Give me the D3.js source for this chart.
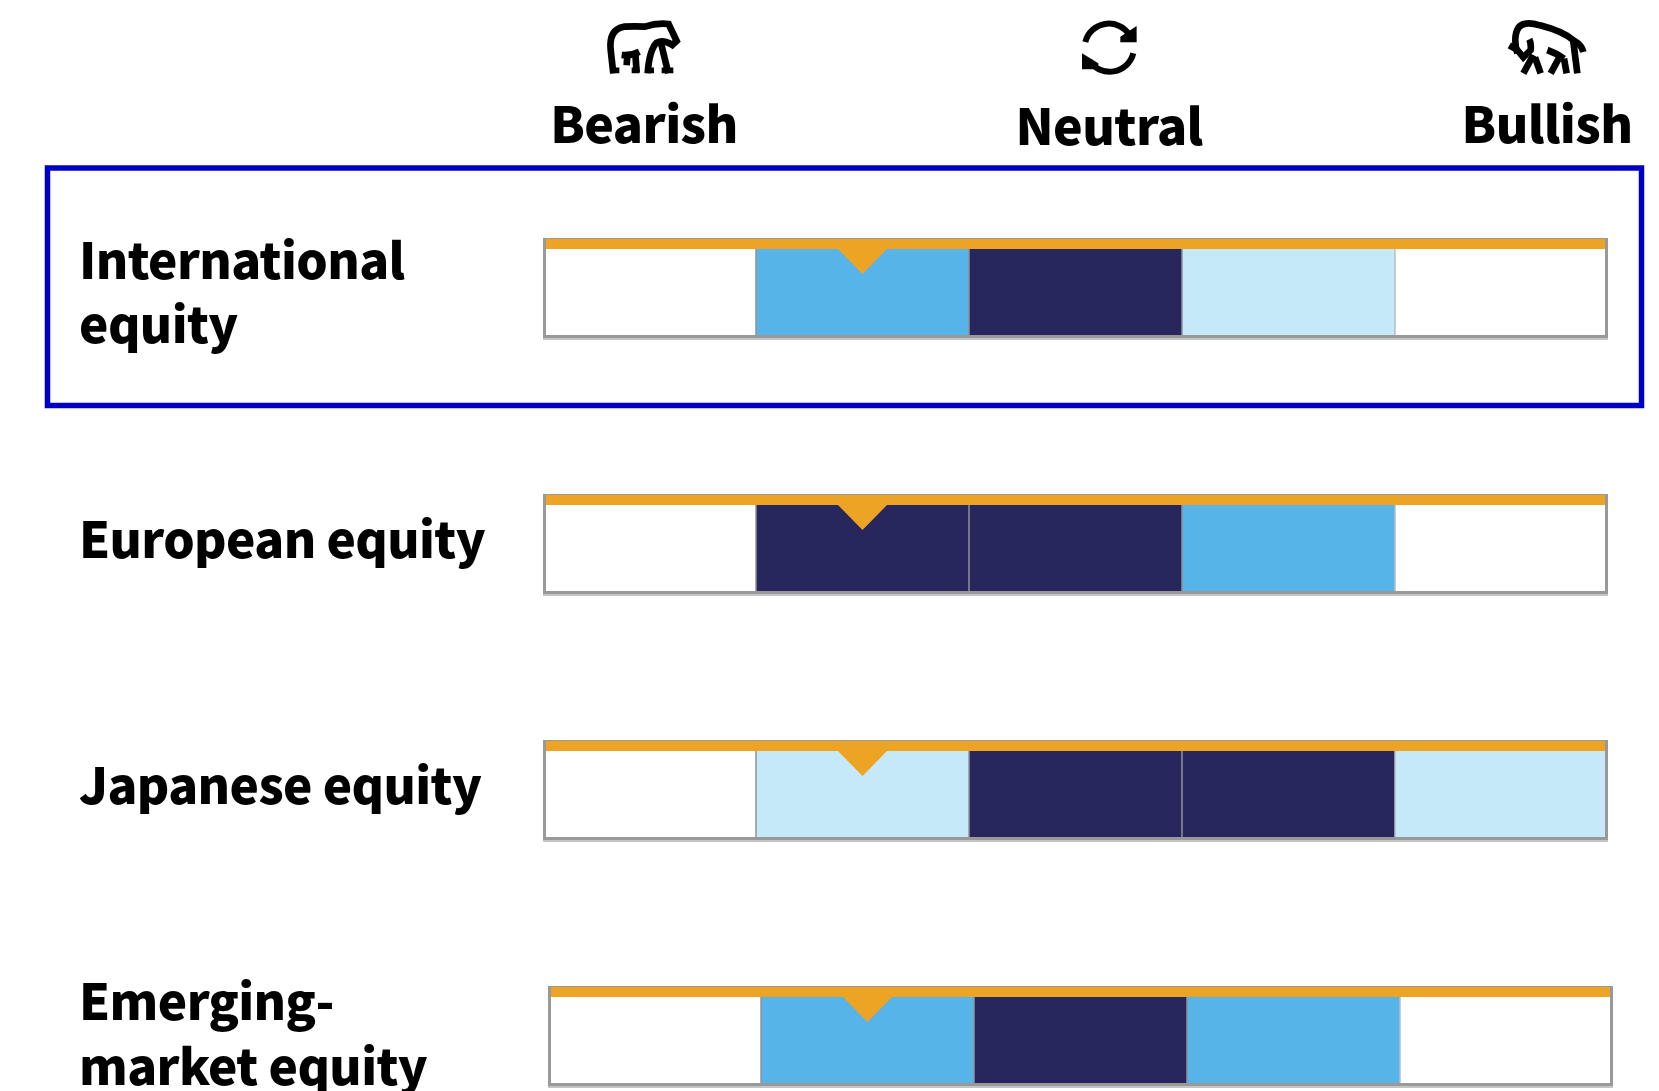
<!DOCTYPE html>
<html>
<head>
<meta charset="utf-8">
<script src="https://cdnjs.cloudflare.com/ajax/libs/d3/7.8.5/d3.min.js"></script>
<style>
	html, body { margin: 0; padding: 0; background: #fff; overflow: hidden; }
	svg { display: block; }
	text { font-family: "Noto Sans CJK JP", "Noto Sans", sans-serif; font-weight: 900; fill: #000; letter-spacing: -0.6px; }
</style>
</head>
<body>
<svg id="chart" width="1659" height="1091"></svg>
<script>
// data
var rows = ["International equity", "European equity", "Japanese equity", "Emerging-market equity"];
var positions = ["Very bearish", "Bearish", "Neutral", "Bullish", "Very bullish"];
var headers = ["Bearish", "Neutral", "Bullish"];
// shade of each cell: 0 none, 1 light, 2 mid, 3 dark
var internationalShades = [0, 2, 3, 1, 0];
var europeanShades = [0, 3, 3, 2, 0];
var japaneseShades = [0, 1, 3, 3, 1];
var emergingShades = [0, 2, 3, 2, 0];
var shades = [internationalShades, europeanShades, japaneseShades, emergingShades];
// position of the orange marker in each row
var markers = ["Bearish", "Bearish", "Bearish", "Bearish"];

// layout
var rowLabels = [["International", "equity"], ["European equity"], ["Japanese equity"], ["Emerging-", "market equity"]];
var labelBaselines = [[279, 343], [558], [804], [1020, 1085]];
var rowTops = [238, 494, 740, 986];
var rowShift = [0, 0, 0, 5];
var headerX = [644, 1109, 1547];
var headerY = [143, 145, 143];
var barH = 100;

var color = d3.scaleOrdinal().domain([0, 1, 2, 3]).range(["#ffffff", "#c6e9f9", "#57b4e8", "#27275e"]);
var x = d3.scaleBand().domain(positions).range([543, 1608]);
var y = d3.scaleOrdinal().domain(rows).range(rowTops);
var svg = d3.select("#chart");

// blue box round the first row
svg.append("rect")
	.attr("x", 47.5).attr("y", 168)
	.attr("width", 1594).attr("height", 237.5)
	.attr("fill", "none").attr("stroke", "#0000c4").attr("stroke-width", 5.5);

// column headers
svg.selectAll(".header")
	.data(headers)
	.enter()
	.append("text")
		.attr("class", "header")
		.attr("x", function(d, i) { return headerX[i]; })
		.attr("y", function(d, i) { return headerY[i]; })
		.attr("text-anchor", "middle")
		.style("font-size", "50px")
		.text(function(d) { return d; });

// row labels
rowLabels.forEach(function(lines, r) {
	lines.forEach(function(line, l) {
		svg.append("text")
			.attr("x", 79)
			.attr("y", labelBaselines[r][l])
			.style("font-size", "49.5px")
			.text(line);
	});
});

// one bar per row
rows.forEach(function(row, r) {
	var top = y(row);
	var g = svg.append("g").attr("transform", "translate(" + rowShift[r] + ",0)");

	// soft shadow under the frame
	g.append("rect")
		.attr("x", x.range()[0]).attr("y", top + 98)
		.attr("width", x.range()[1] - x.range()[0]).attr("height", 4)
		.attr("fill", "#c4c4c4");

	g.selectAll(".cell")
		.data(shades[r])
		.enter()
		.append("rect")
			.attr("class", "cell")
			.attr("x", function(d, i) { return x(positions[i]); })
			.attr("y", top + 11)
			.attr("width", x.bandwidth())
			.attr("height", barH - 14)
			.attr("fill", function(d) { return color(d); });

	// thin dividers between cells
	g.selectAll(".divider")
		.data(positions.slice(1))
		.enter()
		.append("line")
			.attr("class", "divider")
			.attr("x1", function(d) { return x(d); })
			.attr("x2", function(d) { return x(d); })
			.attr("y1", top + 11)
			.attr("y2", top + barH - 3)
			.attr("stroke", function(d, i) { return i == 3 ? "#b5bcc0" : "#8f9396"; })
			.attr("stroke-width", 1.5);

	// frame
	g.append("path")
		.attr("d", d3.line()([
			[x.range()[0] + 1.5, top + 1],
			[x.range()[0] + 1.5, top + barH - 1.5],
			[x.range()[1] - 1.5, top + barH - 1.5],
			[x.range()[1] - 1.5, top + 1]]))
		.attr("fill", "none").attr("stroke", "#999999").attr("stroke-width", 3);
	g.append("rect")
		.attr("x", x.range()[0]).attr("y", top)
		.attr("width", x.range()[1] - x.range()[0]).attr("height", 1.5)
		.attr("fill", "#999999");

	// orange band and marker
	g.append("rect")
		.attr("x", x.range()[0] + 3).attr("y", top + 1)
		.attr("width", x.range()[1] - x.range()[0] - 6).attr("height", 10)
		.attr("fill", "#eda323");
	var cx = x(markers[r]) + x.bandwidth() / 2;
	g.append("path")
		.attr("d", d3.line()([[cx - 25.5, top + 10], [cx + 25.5, top + 10], [cx, top + 36]]))
		.attr("fill", "#eda323");
});

// header icons, drawn in 3x units like the crops
function icon(dx) {
	return svg.append("g")
		.attr("transform", "translate(" + dx + ",0) scale(0.3333)")
		.attr("fill", "none").attr("stroke", "#000").attr("stroke-width", 20);
}

// bear
var bear = icon(520);
bear.append("path").attr("d", "M280 220 L272 150 Q266 88 312 80 Q345 78 375 80 Q410 68 446 72 L470 123 L457 135 Q430 118 410 128 Q388 150 383 220");
bear.append("path").attr("d", "M422 125 L445 220");
bear.append("path").attr("d", "M305 165 Q332 168 358 155");
bear.append("path").attr("d", "M322 168 L320 196 M346 160 L350 218");
bear.append("path").attr("d", "M270 211 L298 211 M335 211 L358 211 M376 211 L402 211 M425 211 L460 211").attr("stroke-width", 17);

// neutral arrows
var cycle = icon(1000);
cycle.append("path").attr("stroke-width", 18).attr("d", "M256 126 A73 73 0 0 1 388 104");
cycle.append("path").attr("stroke-width", 18).attr("d", "M400 160 A73 73 0 0 1 268 182");
cycle.append("path").attr("stroke", "none").attr("fill", "#000").attr("d", "M410 78 L410 127 L361 127 L361 110 Z");
cycle.append("path").attr("stroke", "none").attr("fill", "#000").attr("d", "M246 160 L246 208 L295 208 L295 190 Z");

// bull
var bull = icon(1440);
bull.append("path").attr("d", "M232 160 Q218 110 236 82 Q252 62 300 76 Q370 94 402 122 Q426 136 430 156");
bull.append("path").attr("d", "M400 125 L412 220");
bull.append("path").attr("d", "M208 136 L232 150 L250 172 L272 150 Q274 130 268 118");
bull.append("path").attr("d", "M280 165 L250 220 M285 172 L302 220");
bull.append("path").attr("d", "M322 150 Q350 160 372 176 M358 172 L332 220 M372 176 L380 220");
</script>
</body>
</html>
